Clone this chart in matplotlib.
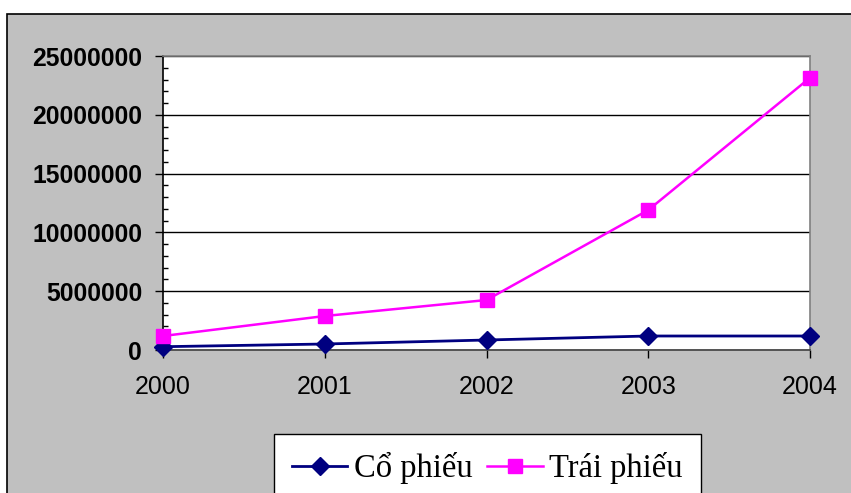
import matplotlib
matplotlib.use("Agg")
import matplotlib.pyplot as plt
import matplotlib.ticker as mticker
from matplotlib.patches import Rectangle

years = [2000, 2001, 2002, 2003, 2004]
co_phieu = [280000, 510000, 850000, 1190000, 1190000]
trai_phieu = [1190000, 2890000, 4250000, 11900000, 23150000]
y_ticks = [0, 5000000, 10000000, 15000000, 20000000, 25000000]

BG = "#C0C0C0"
NAVY = "#000080"
MAGENTA = "#FF00FF"

fig = plt.figure(figsize=(8.51, 4.93), dpi=100)
fig.patch.set_facecolor("white")
# gray chart area with black border, clipped by the image edge
fig.patches.append(Rectangle((7 / 851, -0.05), 1.0, 1 - 14 / 493 + 0.05,
                             transform=fig.transFigure, facecolor=BG,
                             edgecolor="black", linewidth=1.2, zorder=-10))

ax = fig.add_axes([163 / 851, 143 / 493, 647 / 851, 294 / 493])
ax.set_zorder(1)
ax.set_facecolor("white")

ax.plot(years, co_phieu, color=NAVY, linewidth=2, marker="D", markersize=9,
        label="Cổ phiếu", clip_on=False, zorder=4)
ax.plot(years, trai_phieu, color=MAGENTA, linewidth=1.8, marker="s", markersize=10,
        label="Trái phiếu", clip_on=False, zorder=4)

ax.set_xlim(2000, 2004)
ax.set_ylim(0, 25000000)
ax.set_xticks(years)
ax.set_xticklabels([str(y) for y in years], fontsize=18, family="Liberation Sans")
ax.set_yticks(y_ticks)
ax.set_yticklabels([str(v) for v in y_ticks], fontsize=17.8, fontweight="bold",
                   family="Liberation Sans")
ax.yaxis.set_minor_locator(mticker.MultipleLocator(1000000))
ax.tick_params(axis="y", which="major", direction="out", length=6, width=1, pad=9)
ax.tick_params(axis="y", which="minor", direction="in", length=3.6, width=1)
ax.tick_params(axis="x", which="major", direction="out", length=6, width=1, pad=12,
               colors="black")
ax.grid(axis="y", which="major", color="black", linewidth=1)
ax.set_axisbelow(True)

ax.spines["left"].set_color("black")
ax.spines["bottom"].set_color("#404040")
ax.spines["top"].set_color("#808080")
ax.spines["right"].set_color("#808080")
for s in ax.spines.values():
    s.set_linewidth(1.2)

leg = ax.legend(loc="upper left", bbox_to_anchor=(274 / 851, 1 - 434 / 493),
                bbox_transform=fig.transFigure, borderaxespad=0, ncol=2,
                frameon=True, fancybox=False,
                prop={"family": "Liberation Serif", "size": 23.5},
                handlelength=1.7, handletextpad=0.2, columnspacing=0.45,
                borderpad=0.55)
leg.get_frame().set_edgecolor("black")
leg.get_frame().set_linewidth(1.0)
leg.get_frame().set_facecolor("white")
leg.get_frame().set_alpha(1)

fig.savefig("out.png", dpi=100)
